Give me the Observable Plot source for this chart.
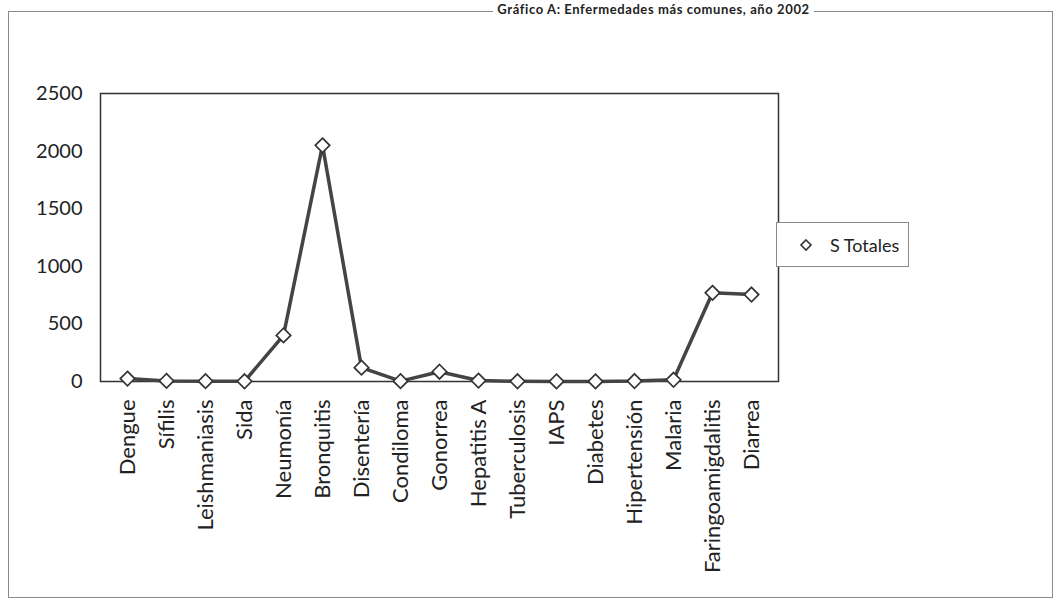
<!DOCTYPE html>
<html>
<head>
<meta charset="utf-8">
<script src="https://cdn.jsdelivr.net/npm/d3@7"></script>
<script src="https://cdn.jsdelivr.net/npm/@observablehq/plot@0.6"></script>
<style>
  html, body { margin: 0; padding: 0; background: #fff; }
  #wrap { position: relative; width: 1057px; height: 601px; overflow: hidden; font-family: Lato, "Open Sans", sans-serif; }
  #title { position: absolute; left: 0; width: 1057px; top: 2px; text-align: center; padding-left: 250px; box-sizing: border-box;
           font-weight: bold; font-size: 13px; line-height: 15px; color: #222; white-space: nowrap; }
  #title span { background: #fff; padding: 0 4px; letter-spacing: 0.6px; }
  #outer { position: absolute; left: 8px; top: 11px; width: 1043px; height: 585px; border: 1.5px solid #8a8a8a; pointer-events: none; }
  #legend { position: absolute; left: 776px; top: 222px; width: 131px; height: 43px; border: 1px solid #8a8a8a; background: #fff;
            display: flex; align-items: center; font-size: 18px; color: #222; }
  #legend svg { margin-left: 22px; margin-right: 17px; }
</style>
</head>
<body>
<div id="wrap">
  <div id="outer"></div>
  <div id="title"><span>Gráfico A: Enfermedades más comunes, año 2002</span></div>
  <div id="chart"></div>
  <div id="legend"><svg width="14" height="14" viewBox="-7 -7 14 14"><path d="M0,-5L5,0L0,5L-5,0Z" fill="#fff" stroke="#333" stroke-width="1.6"/></svg><span>S Totales</span></div>
</div>
<script>
const categories = ["Dengue","Sífilis","Leishmaniasis","Sida","Neumonía","Bronquitis","Disentería","Condiloma","Gonorrea","Hepatitis A","Tuberculosis","IAPS","Diabetes","Hipertensión","Malaria","Faringoamigdalitis","Diarrea"];
const totals = [25, 5, 3, 2, 400, 2050, 120, 3, 85, 8, 2, 1, 1, 4, 15, 770, 755];
const yTicks = [0, 500, 1000, 1500, 2000, 2500];

const data = categories.map((c, i) => ({enfermedad: c, total: totals[i]}));

const chart = Plot.plot({
  width: 1057,
  height: 601,
  marginLeft: 100,
  marginRight: 279,
  marginTop: 93,
  marginBottom: 220,
  style: {fontFamily: "Lato, 'Open Sans', sans-serif", fontSize: "20px", color: "#222", background: "transparent"},
  x: {type: "point", domain: categories, padding: 0.5, label: null},
  y: {domain: [0, 2500], label: null},
  marks: [
    Plot.frame({stroke: "#333", strokeWidth: 1.5}),
    Plot.axisY({ticks: yTicks, tickFormat: d => String(d), tickSize: 0, tickPadding: 18, fontSize: 20, label: null}),
    Plot.axisX({tickSize: 0, tickPadding: 18, tickRotate: -90, fontSize: 22, label: null}),
    Plot.line(data, {x: "enfermedad", y: "total", stroke: "#444", strokeWidth: 3.5}),
    Plot.dot(data, {x: "enfermedad", y: "total", symbol: "diamond2", r: 6.5, fill: "#fff", stroke: "#333", strokeWidth: 1.7})
  ]
});
document.getElementById("chart").appendChild(chart);
</script>
</body>
</html>
